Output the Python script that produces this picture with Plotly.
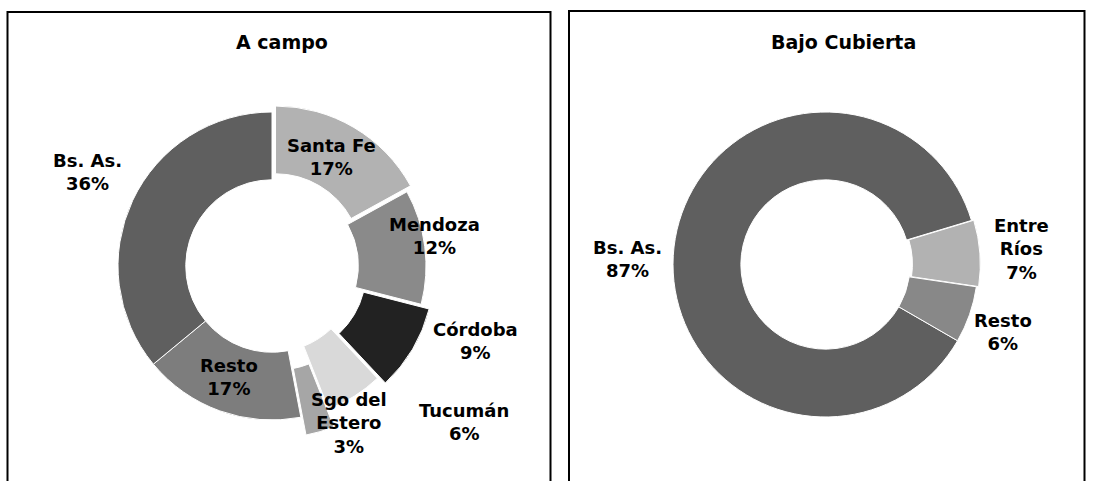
import plotly.graph_objects as go

W, H = 1094, 481

# ---- Data ----
campo_labels = ["Santa Fe", "Mendoza", "Córdoba", "Tucumán", "Sgo del Estero", "Resto", "Bs. As."]
campo_values = [17, 12, 9, 6, 3, 17, 36]
campo_colors = ["#b2b2b2", "#8a8a8a", "#222222", "#d9d9d9", "#a6a6a6", "#7d7d7d", "#5f5f5f"]
campo_pull = [0.045, 0.0, 0.06, 0.0, 0.12, 0.0, 0.0]

cub_labels = ["Bs. As.", "Entre Ríos", "Resto"]
cub_values = [87, 7, 6]
cub_colors = ["#5f5f5f", "#b2b2b2", "#888888"]
cub_pull = [0.0, 0.015, 0.0]

# label block centres (pixels) - layout only
campo_label_pos = {"Santa Fe": (331, 157), "Mendoza": (434, 236), "Córdoba": (475, 341),
                   "Tucumán": (464, 422), "Sgo del Estero": (349, 423), "Resto": (229, 377),
                   "Bs. As.": (87, 172)}
cub_label_pos = {"Bs. As.": (627, 259), "Entre Ríos": (1021, 249), "Resto": (1003, 332)}
wrap = {"Sgo del Estero": "Sgo del<br>Estero", "Entre Ríos": "Entre<br>Ríos"}

FONT = "DejaVu Sans"


def px_domain(cx, cy, half):
    return dict(x=[(cx - half) / W, (cx + half) / W],
                y=[1 - (cy + half) / H, 1 - (cy - half) / H])


fig = go.Figure()
fig.add_trace(go.Pie(
    labels=campo_labels, values=campo_values, sort=False, direction="clockwise",
    rotation=0, hole=0.56, pull=campo_pull, textinfo="none", hoverinfo="label+percent",
    marker=dict(colors=campo_colors, line=dict(color="white", width=1)),
    domain=px_domain(272, 266, 154 * (1 + max(campo_pull))), showlegend=False))
fig.add_trace(go.Pie(
    labels=cub_labels, values=cub_values, sort=False, direction="clockwise",
    rotation=120, hole=0.555, pull=cub_pull, textinfo="none", hoverinfo="label+percent",
    marker=dict(colors=cub_colors, line=dict(color="white", width=1)),
    domain=px_domain(825.5, 264.5, 152.5 * (1 + max(cub_pull))), showlegend=False))

annotations = []


def add_label(text, x, y, size=18):
    annotations.append(dict(text=text, x=x / W, y=1 - y / H, xref="paper", yref="paper",
                            xanchor="center", yanchor="middle", showarrow=False,
                            align="center",
                            font=dict(family=FONT, size=size, color="black", weight="bold")))


for lab, val in zip(campo_labels, campo_values):
    x, y = campo_label_pos[lab]
    add_label(f"{wrap.get(lab, lab)}<br>{val}%", x, y)
for lab, val in zip(cub_labels, cub_values):
    x, y = cub_label_pos[lab]
    add_label(f"{wrap.get(lab, lab)}<br>{val}%", x, y)

add_label("A campo", 282, 42, size=19)
add_label("Bajo Cubierta", 843, 42, size=19)

shapes = [
    dict(type="rect", xref="paper", yref="paper", x0=7.5 / W, x1=550.5 / W,
         y0=-0.2, y1=1 - 12 / H, line=dict(color="black", width=2), fillcolor="rgba(0,0,0,0)"),
    dict(type="rect", xref="paper", yref="paper", x0=569 / W, x1=1084.5 / W,
         y0=-0.2, y1=1 - 11 / H, line=dict(color="black", width=2), fillcolor="rgba(0,0,0,0)"),
]

fig.update_layout(width=W, height=H, margin=dict(l=0, r=0, t=0, b=0),
                  paper_bgcolor="white", plot_bgcolor="white",
                  annotations=annotations, shapes=shapes, showlegend=False)

fig.write_html("out.html", config={"displayModeBar": False},
               post_script="document.body.style.margin='0';document.body.style.overflow='hidden';")
